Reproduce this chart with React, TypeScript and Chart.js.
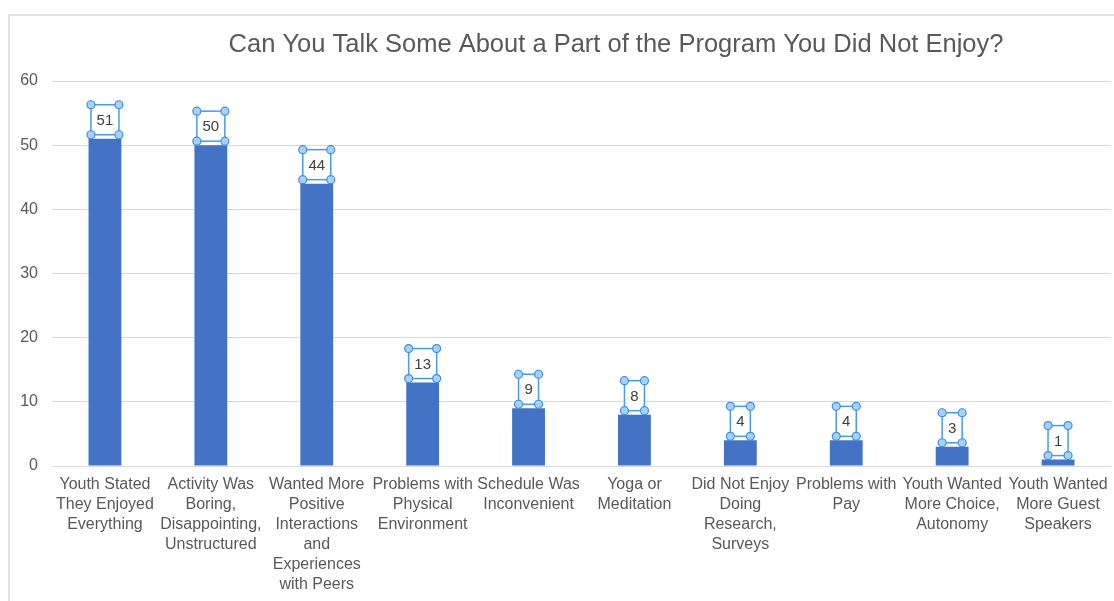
import React, { useEffect, useRef } from "react";
import { Chart, registerables } from "chart.js";

Chart.register(...registerables);

const titleText = "Can You Talk Some About a Part of the Program You Did Not Enjoy?";

const categories: string[][] = [
  ["Youth Stated", "They Enjoyed", "Everything"],
  ["Activity Was", "Boring,", "Disappointing,", "Unstructured"],
  ["Wanted More", "Positive", "Interactions", "and", "Experiences", "with Peers"],
  ["Problems with", "Physical", "Environment"],
  ["Schedule Was", "Inconvenient"],
  ["Yoga or", "Meditation"],
  ["Did Not Enjoy", "Doing", "Research,", "Surveys"],
  ["Problems with", "Pay"],
  ["Youth Wanted", "More Choice,", "Autonomy"],
  ["Youth Wanted", "More Guest", "Speakers"],
];

const values: number[] = [51, 50, 44, 13, 9, 8, 4, 4, 3, 1];

const yMin = 0;
const yMax = 60;
const yStep = 10;

const FONT = "'Liberation Sans', Arial, Helvetica, sans-serif";
const BAR_COLOR = "#4472C4";
const TEXT_COLOR = "#595959";

const framePlugin = {
  id: "frame",
  beforeDraw(chart: any) {
    const ctx = chart.ctx;
    ctx.save();
    ctx.fillStyle = "#ffffff";
    ctx.fillRect(0, 0, chart.width, chart.height);
    ctx.strokeStyle = "#e2e2e2";
    ctx.lineWidth = 2;
    ctx.beginPath();
    ctx.moveTo(9, chart.height);
    ctx.lineTo(9, 15);
    ctx.lineTo(chart.width, 15);
    ctx.stroke();
    ctx.restore();
  },
  afterDraw(chart: any) {
    const ctx = chart.ctx;
    ctx.save();
    ctx.font = `25.5px ${FONT}`;
    ctx.fillStyle = TEXT_COLOR;
    ctx.textAlign = "center";
    ctx.textBaseline = "middle";
    ctx.fillText(titleText, 616, 45);
    ctx.restore();
  },
};

const labelBoxPlugin = {
  id: "labelBoxes",
  afterDatasetsDraw(chart: any) {
    const ctx = chart.ctx;
    const meta = chart.getDatasetMeta(0);
    const data = chart.data.datasets[0].data as number[];
    meta.data.forEach((bar: any, i: number) => {
      const text = String(data[i]);
      const w = text.length > 1 ? 28 : 20;
      const h = 30;
      const cx = bar.x;
      const bottom = bar.y - 4;
      const top = bottom - h;
      const left = cx - w / 2;
      ctx.save();
      ctx.fillStyle = "#ffffff";
      ctx.fillRect(left, top, w, h);
      ctx.strokeStyle = "#4a9be8";
      ctx.lineWidth = 1.5;
      ctx.strokeRect(left, top, w, h);
      ctx.font = `15px ${FONT}`;
      ctx.fillStyle = "#404040";
      ctx.textAlign = "center";
      ctx.textBaseline = "middle";
      ctx.fillText(text, cx, top + h / 2 + 1);
      const corners = [
        [left, top],
        [left + w, top],
        [left, bottom],
        [left + w, bottom],
      ];
      corners.forEach(([x, y]) => {
        ctx.beginPath();
        ctx.arc(x, y, 4, 0, Math.PI * 2);
        ctx.fillStyle = "#a9d1f7";
        ctx.fill();
        ctx.strokeStyle = "#3d8fe0";
        ctx.lineWidth = 1.2;
        ctx.stroke();
      });
      ctx.restore();
    });
  },
};

export default function App() {
  const canvasRef = useRef<HTMLCanvasElement | null>(null);

  useEffect(() => {
    if (!canvasRef.current) return;
    const chart = new Chart(canvasRef.current, {
      type: "bar",
      data: {
        labels: categories,
        datasets: [
          {
            data: values,
            backgroundColor: BAR_COLOR,
            borderWidth: 0,
            categoryPercentage: 1,
            barPercentage: 0.31,
          },
        ],
      },
      options: {
        responsive: false,
        animation: false,
        devicePixelRatio: 1,
        layout: { padding: { top: 81, right: 3, left: 0, bottom: 0 } },
        plugins: {
          legend: { display: false },
          title: { display: false },
          tooltip: { enabled: false },
        },
        scales: {
          x: {
            grid: { display: false, drawTicks: false },
            border: { display: false },
            ticks: {
              autoSkip: false,
              maxRotation: 0,
              minRotation: 0,
              padding: 9,
              color: TEXT_COLOR,
              font: { family: FONT, size: 16, lineHeight: 1.25 },
            },
            afterFit(scale: any) {
              scale.height = 135;
              scale.paddingLeft = 0;
              scale.paddingRight = 0;
            },
          },
          y: {
            min: yMin,
            max: yMax,
            grid: { color: "#d9d9d9", lineWidth: 1, drawTicks: false },
            border: { display: false },
            ticks: {
              stepSize: yStep,
              padding: 14,
              color: TEXT_COLOR,
              font: { family: FONT, size: 16 },
            },
            afterFit(scale: any) {
              scale.width = 52;
            },
          },
        },
      },
      plugins: [framePlugin, labelBoxPlugin],
    });
    return () => chart.destroy();
  }, []);

  return (
    <div style={{ position: "absolute", left: 0, top: 0, width: 1114, height: 601 }}>
      <canvas ref={canvasRef} width={1114} height={601} style={{ width: 1114, height: 601 }} />
    </div>
  );
}
